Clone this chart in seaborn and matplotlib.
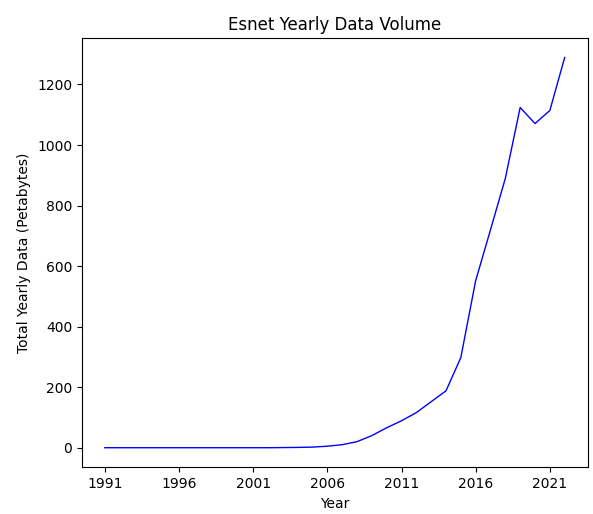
import pandas as pd
import seaborn as sns
import matplotlib
matplotlib.use("Agg")
import matplotlib.pyplot as plt

years = list(range(1991, 2023))
volume_pb = [0, 0, 0, 0, 0, 0, 0, 0, 0, 0,
             0, 0, 0.5, 1, 2, 5, 10, 20, 40, 66,
             89, 116, 152, 188, 298, 552, 720, 890, 1124, 1071,
             1114, 1289]

df = pd.DataFrame({"Year": years, "Volume": volume_pb})

fig, ax = plt.subplots(figsize=(5.93, 5.14), dpi=100)
sns.lineplot(data=df, x="Year", y="Volume", color="blue", linewidth=1, ax=ax)

ax.set_xticks(range(1991, 2023, 5))
ax.set_title("Esnet Yearly Data Volume")
ax.set_xlabel("Year")
ax.set_ylabel("Total Yearly Data (Petabytes)")

fig.subplots_adjust(left=0.138, right=0.991, top=0.926, bottom=0.091)
fig.savefig("out.png", dpi=100)
